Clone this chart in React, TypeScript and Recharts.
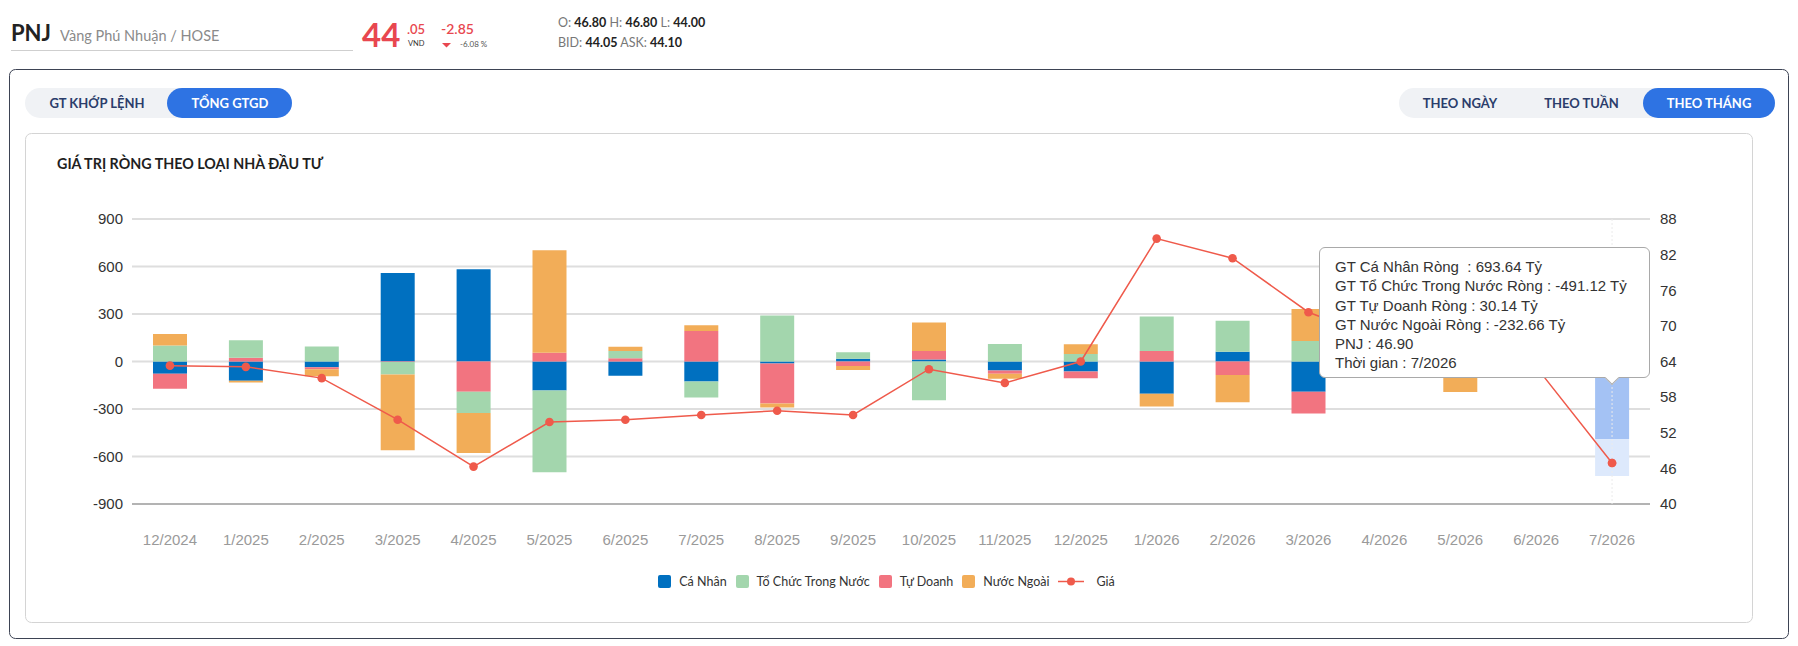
import React from 'react';
import {
  ComposedChart,
  Bar,
  Line,
  XAxis,
  YAxis,
  CartesianGrid,
  Tooltip,
  Legend,
  Cell,
} from 'recharts';

// ---------------- data ----------------
const months = [
  '12/2024', '1/2025', '2/2025', '3/2025', '4/2025', '5/2025', '6/2025', '7/2025',
  '8/2025', '9/2025', '10/2025', '11/2025', '12/2025', '1/2026', '2/2026', '3/2026',
  '4/2026', '5/2026', '6/2026', '7/2026',
];
const caNhan = [-78, -122, -36, 559, 583, -183, -90, -126, -13, 18, 12, -57, -63, -204, 61, -191, 55, -45, 30, 693.64];
const toChuc = [101, 112, 95, -79, -135, -517, 46, -101, 290, 40, -244, 111, 48, 217, 196, 130, -50, 90, 50, -491.12];
const tuDoanh = [-94, 23, -13, -3, -191, 55, 21, 193, -252, -28, 55, -21, -42, 67, -86, -137, 20, -25, -20, 30.14];
const nuocNgoai = [73, -11, -44, -478, -252, 647, 26, 36, -25, -26, 179, -31, 61, -80, -171, 202, 40, -123, -40, -232.66];
const gia = [63.3, 63.1, 61.2, 54.2, 46.3, 53.8, 54.2, 55.0, 55.7, 55.0, 62.7, 60.4, 64.0, 84.7, 81.4, 72.3, 67.5, 65.0, 63.1, 46.9];

const leftTicks = [-900, -600, -300, 0, 300, 600, 900];
const rightTicks = [40, 46, 52, 58, 64, 70, 76, 82, 88];
const activeMonth = '7/2026';
const activeIndex = months.indexOf(activeMonth);

const data = months.map((m, i) => ({
  month: m,
  caNhan: caNhan[i],
  toChuc: toChuc[i],
  tuDoanh: tuDoanh[i],
  nuocNgoai: nuocNgoai[i],
  gia: gia[i],
}));

// stacking order (from zero outward)
const stackSeries = [
  { key: 'caNhan', name: 'Cá Nhân', color: '#0070c0', hl: '#a4c2f4' },
  { key: 'tuDoanh', name: 'Tự Doanh', color: '#f27480', hl: '#5589e3' },
  { key: 'toChuc', name: 'Tổ Chức Trong Nước', color: '#a3d6ad', hl: '#a4c2f4' },
  { key: 'nuocNgoai', name: 'Nước Ngoài', color: '#f2ad58', hl: '#dde9fc' },
];
const legendItems = [
  { name: 'Cá Nhân', color: '#0070c0', type: 'rect' },
  { name: 'Tổ Chức Trong Nước', color: '#a3d6ad', type: 'rect' },
  { name: 'Tự Doanh', color: '#f27480', type: 'rect' },
  { name: 'Nước Ngoài', color: '#f2ad58', type: 'rect' },
  { name: 'Giá', color: '#ef5a4b', type: 'line' },
];
const LINE_COLOR = '#ef5a4b';

const UI_FONT = 'Lato, "Noto Sans", sans-serif';
const CHART_FONT = '"Liberation Sans", Arial, sans-serif';

// ---------------- pieces ----------------
const fmt = (v: number) => v.toFixed(2);

const TooltipBox = (props: any) => {
  const { active, payload, label } = props;
  if (!active || !payload || !payload.length) return null;
  const row = payload[0].payload;
  const lines = [
    `GT Cá Nhân Ròng  : ${fmt(row.caNhan)} Tỷ`,
    `GT Tổ Chức Trong Nước Ròng : ${fmt(row.toChuc)} Tỷ`,
    `GT Tự Doanh Ròng : ${fmt(row.tuDoanh)} Tỷ`,
    `GT Nước Ngoài Ròng : ${fmt(row.nuocNgoai)} Tỷ`,
    `PNJ : ${fmt(row.gia)}`,
    `Thời gian : ${label}`,
  ];
  return (
    <div
      style={{
        position: 'relative',
        boxSizing: 'border-box',
        width: 331,
        height: 131,
        background: '#fff',
        border: '1px solid #a9a9a9',
        borderRadius: 6,
        padding: '9px 15px 0 15px',
        fontFamily: CHART_FONT,
        fontSize: 15,
        lineHeight: '19.3px',
        color: '#333',
        whiteSpace: 'pre',
      }}
    >
      {lines.map((l) => (
        <div key={l}>{l}</div>
      ))}
      <div
        style={{
          position: 'absolute',
          left: 287,
          bottom: -6,
          width: 9,
          height: 9,
          background: '#fff',
          borderRight: '1px solid #a9a9a9',
          borderBottom: '1px solid #a9a9a9',
          transform: 'rotate(45deg)',
        }}
      />
    </div>
  );
};

const LegendBox = () => (
  <div
    style={{
      display: 'flex',
      justifyContent: 'center',
      alignItems: 'center',
      height: 20,
      fontFamily: UI_FONT,
      fontSize: 12.5,
      color: '#333',
    }}
  >
    {legendItems.map((it) => (
      <div key={it.name} style={{ display: 'flex', alignItems: 'center', marginRight: 9 }}>
        {it.type === 'rect' ? (
          <span
            style={{
              display: 'inline-block',
              width: 13,
              height: 13,
              borderRadius: 2,
              background: it.color,
              marginRight: 8,
            }}
          />
        ) : (
          <svg width={26} height={13} style={{ marginRight: 12 }}>
            <line x1={0} y1={6.5} x2={26} y2={6.5} stroke={it.color} strokeWidth={1.5} />
            <circle cx={13} cy={6.5} r={4} fill={it.color} />
          </svg>
        )}
        <span>{it.name}</span>
      </div>
    ))}
  </div>
);

const Chrome = () => (
  <svg width={1798} height={646} style={{ position: 'absolute', left: 0, top: 0 }}>
    {/* header */}
    <text x={11} y={41} fontFamily={UI_FONT} fontWeight={700} fontSize={22} fill="#222">PNJ</text>
    <text x={60} y={41} fontFamily={UI_FONT} fontSize={14.5} fill="#8a8a8a">Vàng Phú Nhuận / HOSE</text>
    <line x1={11} y1={50.5} x2={353} y2={50.5} stroke="#cfcfcf" strokeWidth={1} />
    <text x={362} y={46.7} fontFamily={UI_FONT} fontWeight={700} fontSize={33} fill="#e8474f">44</text>
    <text x={407} y={34.3} fontFamily={UI_FONT} fontWeight={600} fontSize={13} fill="#e8474f">.05</text>
    <text x={408} y={46.3} fontFamily={UI_FONT} fontSize={7.5} fill="#333">VND</text>
    <text x={441} y={34.3} fontFamily={UI_FONT} fontWeight={600} fontSize={14} fill="#e8474f">-2.85</text>
    <polygon points="442,43 451,43 446.5,47.5" fill="#e8474f" />
    <text x={460} y={46.7} fontFamily={UI_FONT} fontSize={8} fill="#555">-6.08 %</text>
    <text x={558} y={27.3} fontFamily={UI_FONT} fontSize={12.5} fill="#777">
      O: <tspan fill="#222" fontWeight={700}>46.80</tspan>
      {'  '}H: <tspan fill="#222" fontWeight={700}>46.80</tspan>
      {'  '}L: <tspan fill="#222" fontWeight={700}>44.00</tspan>
    </text>
    <text x={558} y={47.3} fontFamily={UI_FONT} fontSize={12.5} fill="#777">
      BID: <tspan fill="#222" fontWeight={700}>44.05</tspan>
      {'  '}ASK: <tspan fill="#222" fontWeight={700}>44.10</tspan>
    </text>

    {/* outer card */}
    <rect x={9.5} y={69.5} width={1779} height={569} rx={6} fill="#fff" stroke="#3d4354" strokeWidth={1} />

    {/* left toggle */}
    <rect x={25} y={88} width={267} height={30} rx={15} fill="#f0f2f5" />
    <rect x={167} y={88} width={125} height={30} rx={15} fill="#2e73e3" />
    <text x={97} y={107.7} textAnchor="middle" fontFamily={UI_FONT} fontWeight={700} fontSize={13} fill="#2b3d6b">GT KHỚP LỆNH</text>
    <text x={230} y={107.7} textAnchor="middle" fontFamily={UI_FONT} fontWeight={700} fontSize={13} fill="#fff">TỔNG GTGD</text>

    {/* right toggle */}
    <rect x={1399} y={88} width={376} height={30} rx={15} fill="#f0f2f5" />
    <rect x={1643} y={88} width={132} height={30} rx={15} fill="#2e73e3" />
    <text x={1460} y={107.7} textAnchor="middle" fontFamily={UI_FONT} fontWeight={700} fontSize={13} fill="#2b3d6b">THEO NGÀY</text>
    <text x={1581.5} y={107.7} textAnchor="middle" fontFamily={UI_FONT} fontWeight={700} fontSize={13} fill="#2b3d6b">THEO TUẦN</text>
    <text x={1709} y={107.7} textAnchor="middle" fontFamily={UI_FONT} fontWeight={700} fontSize={13} fill="#fff">THEO THÁNG</text>

    {/* inner card */}
    <rect x={25.5} y={133.5} width={1727} height={489} rx={6} fill="#fff" stroke="#d4d4d4" strokeWidth={1} />
    <text x={57} y={168.7} fontFamily={UI_FONT} fontWeight={700} fontSize={14.3} fill="#1f1f1f">GIÁ TRỊ RÒNG THEO LOẠI NHÀ ĐẦU TƯ</text>
  </svg>
);

export default function App() {
  return (
    <div style={{ position: 'absolute', left: 0, top: 0, width: 1798, height: 646, background: '#fff' }}>
      <Chrome />
      <div style={{ position: 'absolute', left: 25, top: 133 }}>
        <ComposedChart
          width={1728}
          height={490}
          data={data}
          stackOffset="sign"
          margin={{ top: 86, right: 43, bottom: 49, left: 0 }}
        >
          <CartesianGrid yAxisId="left" vertical={false} stroke="#dedede" strokeWidth={2} />
          <XAxis
            dataKey="month"
            interval={0}
            tickLine={false}
            tickSize={0}
            tickMargin={30}
            height={50}
            axisLine={{ stroke: '#b3b3b3', strokeWidth: 2 }}
            tick={{ fill: '#9a9a9a', fontSize: 15, fontFamily: CHART_FONT }}
          />
          <YAxis
            yAxisId="left"
            domain={[-900, 900]}
            ticks={leftTicks}
            interval={0}
            width={107}
            axisLine={false}
            tickLine={false}
            tickSize={0}
            tickMargin={9}
            tick={{ fill: '#333', fontSize: 15, fontFamily: CHART_FONT }}
          />
          <YAxis
            yAxisId="right"
            orientation="right"
            domain={[40, 88]}
            ticks={rightTicks}
            interval={0}
            width={60}
            axisLine={false}
            tickLine={false}
            tickSize={0}
            tickMargin={10}
            tick={{ fill: '#333', fontSize: 15, fontFamily: CHART_FONT }}
          />
          {stackSeries.map((s) => (
            <Bar
              key={s.key}
              yAxisId="left"
              dataKey={s.key}
              name={s.name}
              stackId="net"
              fill={s.color}
              barSize={34}
              isAnimationActive={false}
            >
              {data.map((d) => (
                <Cell key={d.month} fill={d.month === activeMonth ? s.hl : s.color} />
              ))}
            </Bar>
          ))}
          <Line
            yAxisId="right"
            type="linear"
            dataKey="gia"
            name="Giá"
            stroke={LINE_COLOR}
            strokeWidth={1.5}
            dot={{ r: 4.3, fill: LINE_COLOR, stroke: LINE_COLOR, strokeWidth: 0 }}
            activeDot={{ r: 4.3, fill: LINE_COLOR, stroke: LINE_COLOR, strokeWidth: 0 }}
            isAnimationActive={false}
          />
          <Tooltip
            defaultIndex={activeIndex}
            isAnimationActive={false}
            cursor={{ stroke: '#ececec', strokeWidth: 1, strokeDasharray: '2 2' }}
            position={{ x: 1294, y: 114 }}
            content={<TooltipBox />}
            wrapperStyle={{ outline: 'none', zIndex: 10 }}
          />
          <Legend
            verticalAlign="bottom"
            content={<LegendBox />}
            wrapperStyle={{ top: 438, left: 107, width: 1518, height: 20 }}
          />
        </ComposedChart>
      </div>
    </div>
  );
}
